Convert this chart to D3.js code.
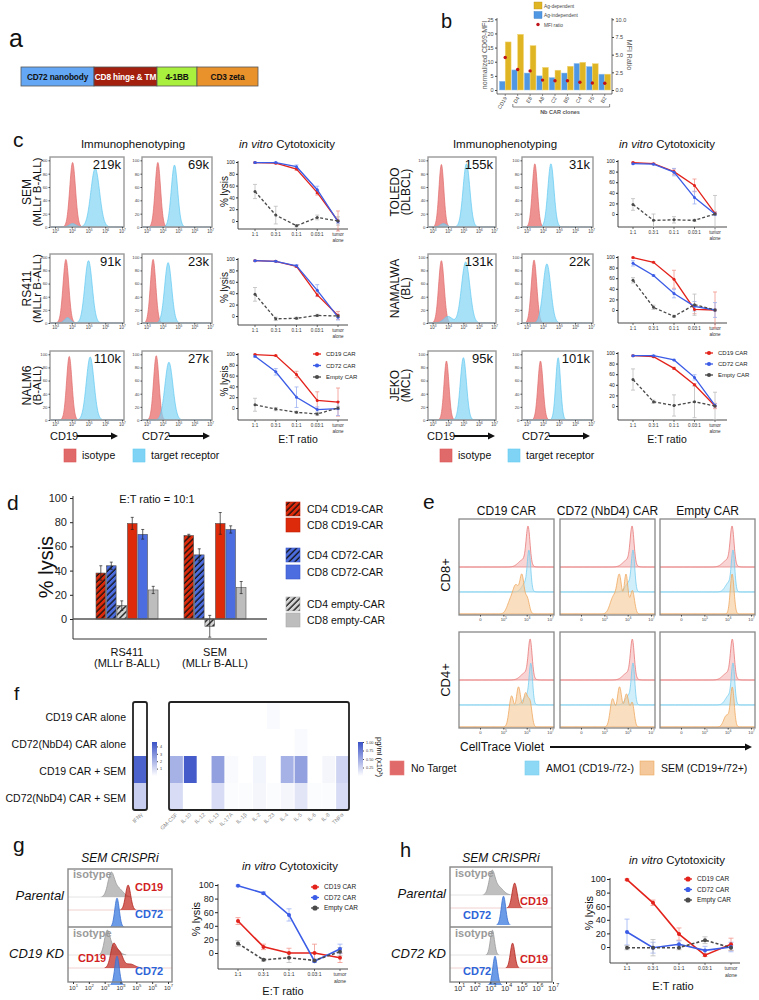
<!DOCTYPE html>
<html>
<head>
<meta charset="utf-8">
<script src="https://cdn.jsdelivr.net/npm/d3@7"></script>
<style>
  body { margin: 0; background: #fff; }
</style>
</head>
<body>
<script>
// ---------------- data ----------------
// a: CAR construct
const constructParts = ["CD72 nanobody", "CD8 hinge & TM", "4-1BB", "CD3 zeta"];
const constructSizes = [73, 63, 40, 61];

// b: nanobody clones
const nbClones = ["CD19", "D4", "E8", "A8", "C2", "B5", "C4", "F5", "B2"];
const agDependent = [17, 19.7, 15.7, 8, 7, 8.4, 9.8, 9.3, 5.6];
const agIndependent = [3.1, 7.1, 6, 5, 4.4, 6, 9.4, 8.3, 5.6];
const mfiRatio = [4.6, 2.9, 2.7, 1.4, 1.3, 1.3, 1.1, 1.0, 0.95];

// c: cytotoxicity, [mean, sd] for CD19 CAR, CD72 CAR, Empty CAR
const etRatios = ["1:1", "0.3:1", "0.1:1", "0.03:1", "tumor alone"];
const carNames = ["CD19 CAR", "CD72 CAR", "Empty CAR"];
const semLysis = [
  [[99, 1], [98, 1], [88, 2], [48, 4], [0, 17]],
  [[99, 1], [99, 1], [92, 3], [53, 6], [-1, 3]],
  [[50, 12], [10, 15], [-8, 2], [6, 4], [0, 7]]
];
const rs411Lysis = [
  [[97, 1], [96, 1], [87, 2], [37, 3], [1, 7]],
  [[97, 1], [96, 1], [88, 2], [45, 10], [-2, 5]],
  [[38, 12], [-5, 3], [-4, 2], [1, 2], [0, 2]]
];
const nalm6Lysis = [
  [[99, 1], [97, 1], [62, 6], [14, 16], [11, 26]],
  [[96, 2], [67, 6], [20, 19], [-3, 5], [-1, 13]],
  [[6, 12], [-2, 3], [-8, 2], [-11, 3], [0, 3]]
];
const toledoLysis = [
  [[97, 1], [95, 1], [80, 5], [54, 12], [1, 3]],
  [[95, 1], [94, 1], [79, 7], [31, 12], [0, 3]],
  [[18, 11], [-12, 12], [-11, 6], [-12, 2], [0, 35]]
];
const namalwaLysis = [
  [[99, 1], [90, 1], [58, 17], [1, 8], [0, 34]],
  [[88, 5], [65, 1], [31, 8], [7, 9], [0, 14]],
  [[56, 5], [5, 4], [-12, 2], [10, 20], [0, 2]]
];
const jekoLysis = [
  [[95, 1], [93, 1], [71, 2], [40, 2], [0, 5]],
  [[95, 1], [95, 1], [87, 1], [54, 5], [1, 3]],
  [[50, 20], [8, 3], [1, 20], [8, 30], [0, 26]]
];

// c: flow histograms, peaks as [log10 position, spread, % of max]; [isotype, target receptor]
const semCD19Hist = [[[4.05, 0.17, 97]], [[5.4, 0.26, 88], [4.05, 0.2, 5]]];
const semCD72Hist = [[[3.7, 0.17, 97]], [[4.75, 0.2, 93]]];
const rs411CD19Hist = [[[3.65, 0.17, 97]], [[5.0, 0.22, 95], [3.75, 0.18, 8]]];
const rs411CD72Hist = [[[3.4, 0.17, 97]], [[4.35, 0.22, 92]]];
const nalm6CD19Hist = [[[3.85, 0.16, 97]], [[5.1, 0.23, 96]]];
const nalm6CD72Hist = [[[3.6, 0.17, 98]], [[4.4, 0.25, 88]]];
const toledoCD19Hist = [[[3.57, 0.16, 94]], [[5.2, 0.22, 95], [3.7, 0.2, 5]]];
const toledoCD72Hist = [[[3.5, 0.16, 95]], [[4.5, 0.19, 95]]];
const namalwaCD19Hist = [[[3.57, 0.18, 95]], [[5.15, 0.27, 93], [4.0, 0.28, 10]]];
const namalwaCD72Hist = [[[3.45, 0.17, 96]], [[4.25, 0.24, 90]]];
const jekoCD19Hist = [[[3.9, 0.16, 90]], [[5.0, 0.2, 95]]];
const jekoCD72Hist = [[[3.85, 0.16, 90]], [[4.95, 0.15, 95]]];
const receptorCounts = ["219k", "69k", "91k", "23k", "110k", "27k", "155k", "31k", "131k", "22k", "95k", "101k"];

// d: lysis at E:T 10:1, [mean, sd]
const dGroups = ["RS411", "SEM"];
const dBars = ["CD4 CD19-CAR", "CD4 CD72-CAR", "CD4 empty-CAR", "CD8 CD19-CAR", "CD8 CD72-CAR", "CD8 empty-CAR"];
const rs411Lysis10 = [[38, 6], [44, 3], [11, 4], [79, 5], [70, 4], [24, 3]];
const semLysis10 = [[69, 1], [53, 5], [-6, 9], [79, 9], [74, 3], [26, 5]];

// e: CellTrace Violet dilution, [No Target, AMO1, SEM] peaks
const eCars = ["CD19 CAR", "CD72 (NbD4) CAR", "Empty CAR"];
const cd8TraceCD19 = [[[6.06, 0.08, 1], [5.85, 0.2, 0.2]], [[6.1, 0.07, 1], [5.95, 0.15, 0.25]], [[5.8, 0.09, 1], [5.55, 0.13, 0.75], [5.3, 0.14, 0.35], [6.02, 0.09, 0.45]]];
const cd8TraceCD72 = [[[6.19, 0.08, 1], [6.0, 0.2, 0.2]], [[6.23, 0.07, 1], [6.05, 0.15, 0.25]], [[5.93, 0.08, 1], [5.65, 0.1, 0.9], [5.4, 0.15, 0.45], [6.2, 0.09, 0.6]]];
const cd8TraceEmpty = [[[6.19, 0.08, 1], [6.0, 0.2, 0.2]], [[6.23, 0.07, 1], [6.05, 0.15, 0.25]], [[6.19, 0.08, 1]]];
const cd4TraceCD19 = [[[6.15, 0.08, 1], [5.95, 0.2, 0.2]], [[6.18, 0.07, 1], [6.0, 0.15, 0.25]], [[5.35, 0.1, 0.7], [5.65, 0.1, 0.9], [5.95, 0.1, 0.75], [6.15, 0.08, 0.5]]];
const cd4TraceCD72 = [[[6.2, 0.08, 1], [6.0, 0.2, 0.2]], [[6.23, 0.07, 1], [6.05, 0.15, 0.25]], [[5.35, 0.1, 0.6], [5.65, 0.1, 0.85], [5.95, 0.1, 0.7], [6.2, 0.08, 0.5]]];
const cd4TraceEmpty = [[[6.2, 0.08, 1], [6.0, 0.2, 0.2]], [[6.23, 0.07, 1], [6.05, 0.15, 0.25]], [[6.2, 0.08, 1], [5.95, 0.12, 0.3]]];
const eLegend = ["No Target", "AMO1 (CD19-/72-)", "SEM (CD19+/72+)"];

// f: cytokines (pg/ml x10^3)
const conditions = ["CD19 CAR alone", "CD72(NbD4) CAR alone", "CD19 CAR + SEM", "CD72(NbD4) CAR + SEM"];
const cytokines = ["GM-CSF", "IL-10", "IL-12", "IL-13", "IL-17A", "IL-1β", "IL-2", "IL-23", "IL-4", "IL-5", "IL-6", "IL-8", "TNFα"];
const ifnGamma = [0, 0.02, 4.2, 1.3];
const cytoCD19Alone = [0, 0, 0, 0, 0, 0, 0, 0.03, 0, 0, 0, 0, 0];
const cytoCD72Alone = [0, 0, 0, 0, 0, 0, 0, 0, 0, 0.03, 0, 0, 0];
const cytoCD19SEM = [0.45, 0.95, 0, 0.55, 0.03, 0, 0.06, 0, 0.45, 0.55, 0, 0.05, 0.25];
const cytoCD72SEM = [0.2, 0, 0, 0.2, 0.02, 0.02, 0.05, 0.02, 0.05, 0.15, 0.02, 0.02, 0.2];

// g / h: CRISPRi histograms [isotype, CD19, CD72] and lysis
const gParental = [[[3.4, 0.2, 0.9], [3.85, 0.3, 0.35]], [[4.48, 0.16, 1]], [[3.78, 0.14, 1]]];
const gCD19KD = [[[3.15, 0.17, 0.9], [3.55, 0.3, 0.35]], [[3.55, 0.18, 0.85], [3.95, 0.2, 0.55], [4.6, 0.3, 0.15]], [[3.78, 0.14, 1]]];
const hParental = [[[3.1, 0.18, 0.9], [3.5, 0.3, 0.35]], [[4.55, 0.16, 1]], [[3.84, 0.14, 1]]];
const hCD72KD = [[[3.13, 0.13, 1]], [[4.42, 0.14, 1]], [[3.3, 0.14, 1]]];
const gLysis = [
  [[47, 5], [9, 4], [0, 7], [0, 13], [-7, 7]],
  [[99, 1], [88, 2], [56, 9], [-12, 2], [6, 7]],
  [[14, 4], [-10, 2], [-7, 7], [-11, 2], [2, 6]]
];
const hLysis = [
  [[99, 1], [65, 4], [19, 9], [-12, 2], [4, 9]],
  [[22, 19], [-1, 8], [4, 5], [-5, 6], [0, 7]],
  [[-1, 3], [-1, 12], [-1, 3], [10, 5], [-1, 4]]
];

// ---------------- setup ----------------
const FONT = "'Liberation Sans', Arial, Helvetica, sans-serif";
const svg = d3.select("body").append("svg")
  .attr("width", 759).attr("height", 1000)
  .style("font-family", FONT);
svg.append("rect").attr("width", 759).attr("height", 1000).attr("fill", "#fff");
const defs = svg.append("defs");

function txt(x, y, s, size, o = {}) {
  const t = svg.append("text").attr("x", x).attr("y", y).text(s)
    .attr("font-size", size).attr("text-anchor", o.anchor || "start")
    .attr("fill", o.fill || "#111");
  if (o.weight) t.attr("font-weight", o.weight);
  if (o.italic) t.attr("font-style", "italic");
  if (o.rotate != null) t.attr("transform", `rotate(${o.rotate},${x},${y})`);
  return t;
}
function line(x1, y1, x2, y2, stroke, w, dash) {
  const l = svg.append("line").attr("x1", x1).attr("y1", y1).attr("x2", x2).attr("y2", y2)
    .attr("stroke", stroke).attr("stroke-width", w);
  if (dash) l.attr("stroke-dasharray", dash);
  return l;
}
function styleAxis(g, fs, color) {
  g.attr("font-family", FONT).attr("font-size", fs);
  g.selectAll("text").attr("fill", color);
  g.selectAll("line").attr("stroke", color);
  g.select(".domain").remove();
}
function powLabels(g, fs) {
  g.selectAll("text").each(function (d) {
    const t = d3.select(this);
    t.text(null);
    t.append("tspan").text("10");
    t.append("tspan").attr("dy", -fs * 0.45).attr("font-size", fs * 0.7).text(d);
  });
}
function density(comps, v) {
  return d3.sum(comps, c => c[2] * Math.exp(-((v - c[0]) ** 2) / (2 * c[1] * c[1])));
}
function histPoints(comps, lo, hi) {
  return d3.range(lo, hi, (hi - lo) / 200).concat([hi]).map(v => [v, density(comps, v)]);
}
// filled flow histogram; outline optionally only where the curve rises
function drawHist(comps, x, lo, hi, yBase, yFn, fill, stroke, sw, outlineOnly) {
  const pts = histPoints(comps, lo, hi);
  const mx = d3.max(pts, p => p[1]);
  svg.append("path")
    .attr("d", d3.area().x(p => x(p[0])).y0(yBase).y1(p => yFn(p[1], mx)).curve(d3.curveBasis)(pts))
    .attr("fill", fill).attr("stroke", outlineOnly ? "none" : stroke).attr("stroke-width", sw);
  if (outlineOnly) {
    svg.append("path")
      .attr("d", d3.line().defined(p => p[1] / mx > 0.01).x(p => x(p[0])).y(p => yFn(p[1], mx)).curve(d3.curveBasis)(pts))
      .attr("fill", "none").attr("stroke", stroke).attr("stroke-width", sw);
  }
}
function arrow(x1, x2, y) {
  line(x1, y, x2 - 5, y, "#111", 2);
  svg.append("path").attr("d", `M${x2 - 7},${y - 3.5}L${x2},${y}L${x2 - 7},${y + 3.5}Z`).attr("fill", "#111");
}

// panel letters
txt(9, 47, "a", 25);
txt(441, 28, "b", 20);
txt(13, 147, "c", 21);
txt(7, 510, "d", 21);
txt(423, 509, "e", 21);
txt(14, 700, "f", 19);
txt(13, 852, "g", 21);
txt(400, 857, "h", 20);

// ---------------- a ----------------
const constructColors = ["#64a8f5", "#a3200f", "#a9ef3d", "#e9922c"];
const aScale = d3.scaleLinear().domain([0, d3.sum(constructSizes)]).range([21, 258]);
const aStarts = d3.cumsum([0].concat(constructSizes));
constructParts.forEach((p, i) => {
  const x0 = aScale(aStarts[i]), x1 = aScale(aStarts[i + 1]);
  svg.append("rect").attr("x", x0).attr("y", 67).attr("width", x1 - x0).attr("height", 19)
    .attr("fill", constructColors[i]).attr("stroke", "#555").attr("stroke-width", 0.8);
  txt((x0 + x1) / 2, 79.5, p, 8.3, { anchor: "middle", weight: "bold", fill: i === 1 ? "#fff" : "#111" })
    .attr("letter-spacing", -0.15);
});

// ---------------- b ----------------
const bx = d3.scaleBand().domain(nbClones).range([499, 611]).paddingInner(0.06).paddingOuter(0.03);
const byL = d3.scaleLinear().domain([0, 25]).range([90, 19.3]);
const byR = d3.scaleLinear().domain([0, 10]).range([90, 19.3]);
const bHalf = bx.bandwidth() / 2;
nbClones.forEach((c, i) => {
  svg.append("rect").attr("x", bx(c)).attr("y", byL(agIndependent[i])).attr("width", bHalf)
    .attr("height", byL(0) - byL(agIndependent[i])).attr("fill", "#4f97e3").attr("stroke", "#9ac6f2").attr("stroke-width", 0.5);
  svg.append("rect").attr("x", bx(c) + bHalf).attr("y", byL(agDependent[i])).attr("width", bHalf)
    .attr("height", byL(0) - byL(agDependent[i])).attr("fill", "#e0b523").attr("stroke", "#f2d77a").attr("stroke-width", 0.5);
});
nbClones.forEach((c, i) => {
  svg.append("circle").attr("cx", bx(c) + bHalf).attr("cy", byR(mfiRatio[i])).attr("r", 1.7).attr("fill", "#c0121a");
});
const bAxL = svg.append("g").attr("transform", "translate(497,0)")
  .call(d3.axisLeft(byL).tickValues([0, 5, 10, 15, 20, 25]).tickSize(2).tickPadding(1.5));
styleAxis(bAxL, 5.5, "#444");
const bAxR = svg.append("g").attr("transform", "translate(612,0)")
  .call(d3.axisRight(byR).tickValues([0, 2.5, 5, 7.5, 10]).tickFormat(d3.format(".1f")).tickSize(2).tickPadding(1.5));
styleAxis(bAxR, 5.5, "#444");
line(497, 18, 497, 94, "#444", 0.8);
line(612, 18, 612, 94, "#444", 0.8);
line(497, 94, 612, 94, "#444", 0.8);
nbClones.forEach(c => {
  const cx = bx(c) + bHalf;
  line(cx, 94, cx, 96, "#444", 0.6);
  txt(cx + 2, 98, c, 5.2, { anchor: "end", fill: "#444", rotate: -60 });
});
svg.append("path").attr("d", `M${bx("D4") + 1},104V107H${bx("B2") + bx.bandwidth() - 1}V104`)
  .attr("fill", "none").attr("stroke", "#555").attr("stroke-width", 0.7);
txt(560, 114, "Nb CAR clones", 5.5, { anchor: "middle", fill: "#555", weight: "bold" });
txt(487, 55, "normalized CD69-MFI", 7, { anchor: "middle", fill: "#555", rotate: -90 });
txt(627, 55, "MFI Ratio", 7, { anchor: "middle", fill: "#555", rotate: 90 });
svg.append("rect").attr("x", 534).attr("y", 2).attr("width", 8).attr("height", 7).attr("fill", "#e0b523").attr("stroke", "#b89020").attr("stroke-width", 0.4);
svg.append("rect").attr("x", 534).attr("y", 11.5).attr("width", 8).attr("height", 7).attr("fill", "#4f97e3").attr("stroke", "#3a78c0").attr("stroke-width", 0.4);
svg.append("circle").attr("cx", 538).attr("cy", 24.5).attr("r", 1.7).attr("fill", "#c0121a");
txt(544, 7.5, "Ag-dependent", 4.8, { fill: "#444" });
txt(544, 17, "Ag-independent", 4.8, { fill: "#444" });
txt(544, 26.5, "MFI ratio", 4.8, { fill: "#444" });

// ---------------- c ----------------
const carStyles = [
  { line: "#e3221b", err: "#f1968c", dash: null },
  { line: "#3b5ce6", err: "#9db1f2", dash: null },
  { line: "#4a4a4a", err: "#bdbdbd", dash: "3,2" }
];

function flowHist(x0, x1, yTop, yBot, hist, count) {
  const x = d3.scaleLinear().domain([2.7, 7.12]).range([x0, x1]);
  const y = d3.scaleLinear().domain([0, 105]).range([yBot, yTop]);
  const fills = ["rgba(232,108,108,0.75)", "rgba(128,212,245,0.7)"];
  const strokes = ["#e06a6a", "#62c9f0"];
  hist.forEach((comps, i) => {
    drawHist(comps, x, 2.7, 7.12, yBot, v => y(v), fills[i], strokes[i], 0.7, false);
  });
  svg.append("rect").attr("x", x0).attr("y", yTop).attr("width", x1 - x0).attr("height", yBot - yTop)
    .attr("fill", "none").attr("stroke", "#999").attr("stroke-width", 1.4);
  const ya = svg.append("g").attr("transform", `translate(${x0},0)`)
    .call(d3.axisLeft(y).tickValues([0, 20, 40, 60, 80, 100]).tickSize(1.5).tickPadding(1));
  styleAxis(ya, 4.3, "#444");
  const xa = svg.append("g").attr("transform", `translate(0,${yBot})`)
    .call(d3.axisBottom(x).tickValues([3, 4, 5, 6, 7]).tickSize(1.5).tickPadding(1.5));
  styleAxis(xa, 4.5, "#444");
  powLabels(xa, 4.5);
  txt(x1 - 3, yTop + 12, count, 13, { anchor: "end" });
}

function cytoPlot(o, series, legend) {
  const fs = o.fs || 5;
  const x = d3.scalePoint().domain(etRatios).range([o.xs, o.xe]);
  const y = d3.scaleLinear().domain([0, 100]).range([o.y0, o.y100]);
  const ya = svg.append("g").attr("transform", `translate(${o.ax},0)`)
    .call(d3.axisLeft(y).tickValues([0, 20, 40, 60, 80, 100]).tickSize(o.tick || 2).tickPadding(1.2));
  styleAxis(ya, fs, "#222");
  line(o.ax, o.y100 - 1, o.ax, o.yBase, "#333", 0.9);
  line(o.ax, o.yBase, o.xEnd, o.yBase, "#333", 0.9);
  const lfs = o.lfs || 4.6;
  etRatios.forEach(r => {
    line(x(r), o.yBase, x(r), o.yBase + 2, "#333", 0.7);
    if (r === "tumor alone") {
      txt(x(r), o.yBase + 7, "tumor", lfs, { anchor: "middle", fill: "#333" });
      txt(x(r), o.yBase + 7 + lfs * 1.35, "alone", lfs, { anchor: "middle", fill: "#333" });
    } else {
      txt(x(r), o.yBase + 7, r, lfs, { anchor: "middle", fill: "#333" });
    }
  });
  const r = o.r || 1.5, cap = o.cap || 2;
  series.forEach((s, i) => {
    const st = carStyles[i];
    s.forEach((d, j) => {
      const cx = x(etRatios[j]);
      line(cx, y(d[0] - d[1]), cx, y(d[0] + d[1]), st.err, 0.8);
      line(cx - cap, y(d[0] + d[1]), cx + cap, y(d[0] + d[1]), st.err, 0.8);
      line(cx - cap, y(d[0] - d[1]), cx + cap, y(d[0] - d[1]), st.err, 0.8);
    });
  });
  series.forEach((s, i) => {
    const st = carStyles[i];
    const p = svg.append("path")
      .attr("d", d3.line().x((d, j) => x(etRatios[j])).y(d => y(d[0]))(s))
      .attr("fill", "none").attr("stroke", st.line).attr("stroke-width", o.lw || 1.3);
    if (st.dash) p.attr("stroke-dasharray", st.dash);
    s.forEach((d, j) => {
      svg.append("circle").attr("cx", x(etRatios[j])).attr("cy", y(d[0])).attr("r", r).attr("fill", st.line);
    });
  });
  if (legend) {
    carNames.forEach((n, i) => {
      const ly = legend.y + i * legend.dy;
      line(legend.x - 4, ly, legend.x + 4, ly, carStyles[i].line, 1.3);
      svg.append("circle").attr("cx", legend.x).attr("cy", ly).attr("r", r + 0.6).attr("fill", carStyles[i].line);
      txt(legend.x + 9, ly + legend.fs * 0.35, n, legend.fs, { fill: "#222" });
    });
  }
  if (o.ylab) {
    txt(o.ylab.x, (o.y100 + o.y0) / 2, "% lysis", o.ylab.fs, { anchor: "middle", rotate: -90 });
  }
}

function headers(xImm, xCyt) {
  txt(xImm, 148, "Immunophenotyping", 11.5, { anchor: "middle" });
  const t = txt(xCyt, 148, "", 11.5, { anchor: "middle" });
  t.append("tspan").attr("font-style", "italic").text("in vitro");
  t.append("tspan").text(" Cytotoxicity");
}
headers(133, 287);
headers(505, 667);

const leftRows = [
  { name: ["SEM", "(MLLr B-ALL)"], hist: [semCD19Hist, semCD72Hist], lysis: semLysis },
  { name: ["RS411", "(MLLr B-ALL)"], hist: [rs411CD19Hist, rs411CD72Hist], lysis: rs411Lysis },
  { name: ["NALM6", "(B-ALL)"], hist: [nalm6CD19Hist, nalm6CD72Hist], lysis: nalm6Lysis }
];
const rightRows = [
  { name: ["TOLEDO", "(DLBCL)"], hist: [toledoCD19Hist, toledoCD72Hist], lysis: toledoLysis },
  { name: ["NAMALWA", "(BL)"], hist: [namalwaCD19Hist, namalwaCD72Hist], lysis: namalwaLysis },
  { name: ["JEKO", "(MCL)"], hist: [jekoCD19Hist, jekoCD72Hist], lysis: jekoLysis }
];
const rowBoxes = [[157, 227], [254, 323], [351, 420]];
const leftCyto = [
  { y100: 162, y0: 221, yBase: 229 },
  { y100: 259, y0: 316, yBase: 325 },
  { y100: 354, y0: 408, yBase: 420 }
];
const rightCyto = [
  { y100: 161, y0: 214, yBase: 227 },
  { y100: 257, y0: 310, yBase: 323 },
  { y100: 353, y0: 406, yBase: 420 }
];
leftRows.forEach((r, i) => {
  const [yt, yb] = rowBoxes[i];
  const cy = (yt + yb) / 2;
  txt(31, cy, r.name[0], 12, { anchor: "middle", rotate: -90 });
  txt(40.5, cy, r.name[1], 11.5, { anchor: "middle", rotate: -90 });
  flowHist(50, 124, yt, yb, r.hist[0], receptorCounts[i * 2]);
  flowHist(142, 212, yt, yb, r.hist[1], receptorCounts[i * 2 + 1]);
  cytoPlot(Object.assign({ ax: 238, xs: 255, xe: 338, xEnd: 348, ylab: { x: 228, fs: 10 } }, leftCyto[i]), r.lysis,
    i === 2 ? { x: 317, y: 354, dy: 11.5, fs: 6 } : null);
});
rightRows.forEach((r, i) => {
  const [yt, yb] = rowBoxes[i];
  const cy = (yt + yb) / 2;
  txt(399, cy, r.name[0], 12, { anchor: "middle", rotate: -90 });
  txt(410, cy, r.name[1], 12, { anchor: "middle", rotate: -90 });
  flowHist(428, 496, yt, yb, r.hist[0], receptorCounts[6 + i * 2]);
  flowHist(522, 593, yt, yb, r.hist[1], receptorCounts[6 + i * 2 + 1]);
  cytoPlot(Object.assign({ ax: 618, xs: 633, xe: 715, xEnd: 727 }, rightCyto[i]), r.lysis,
    i === 2 ? { x: 709, y: 353, dy: 11, fs: 6 } : null);
});
// c axis titles & legend
[[50, 142], [427, 522]].forEach(([a, b]) => {
  txt(a, 440, "CD19", 11);
  arrow(a + 27, a + 68, 436);
  txt(b, 440, "CD72", 11);
  arrow(b + 27, b + 68, 436);
});
[[64, 133], [440, 508]].forEach(([a, b]) => {
  svg.append("rect").attr("x", a).attr("y", 449).attr("width", 12).attr("height", 13).attr("fill", "#e06a6a").attr("stroke", "#d55").attr("stroke-width", 0.6);
  txt(a + 18, 459, "isotype", 10.5);
  svg.append("rect").attr("x", b).attr("y", 449).attr("width", 12).attr("height", 13).attr("fill", "#7fd4f5").attr("stroke", "#62c9f0").attr("stroke-width", 0.6);
  txt(b + 18, 459, "target receptor", 10.5);
});
txt(298, 443, "E:T ratio", 10.5, { anchor: "middle" });
txt(667, 443, "E:T ratio", 10.5, { anchor: "middle" });

// ---------------- d ----------------
const dRed = "#dd2a0b", dBlue = "#4c6de0", dGrey = "#bdbdbd";
function hatch(id, color) {
  const p = defs.append("pattern").attr("id", id).attr("patternUnits", "userSpaceOnUse")
    .attr("width", 4.2).attr("height", 4.2).attr("patternTransform", "rotate(45)");
  p.append("rect").attr("width", 4.2).attr("height", 4.2).attr("fill", color);
  p.append("line").attr("x1", 1).attr("y1", 0).attr("x2", 1).attr("y2", 4.2).attr("stroke", "#111").attr("stroke-width", 1.3);
}
hatch("hRed", dRed);
hatch("hBlue", dBlue);
hatch("hGrey", "#d4d4d4");
const dFills = ["url(#hRed)", "url(#hBlue)", "url(#hGrey)", dRed, dBlue, dGrey];
const dGx = d3.scaleBand().domain(dGroups).range([96, 246]).paddingInner(0.295);
const dBx = d3.scaleBand().domain(dBars).range([0, dGx.bandwidth()]).paddingInner(0.08);
const dY = d3.scaleLinear().domain([0, 100]).range([619, 498]);
const dAx = svg.append("g").attr("transform", "translate(73,0)")
  .call(d3.axisLeft(dY).tickValues([0, 20, 40, 60, 80, 100]).tickSize(3).tickPadding(3));
styleAxis(dAx, 11, "#222");
line(73, 496, 73, 639, "#333", 1);
line(73, 639, 267, 639, "#333", 1);
[rs411Lysis10, semLysis10].forEach((vals, gi) => {
  const gx = dGx(dGroups[gi]);
  vals.forEach((d, i) => {
    const x0 = gx + dBx(dBars[i]);
    const top = Math.min(dY(d[0]), dY(0));
    svg.append("rect").attr("x", x0).attr("y", top).attr("width", dBx.bandwidth())
      .attr("height", Math.abs(dY(d[0]) - dY(0))).attr("fill", dFills[i]).attr("stroke", "#555").attr("stroke-width", 0.6);
  });
  vals.forEach((d, i) => {
    const cx = gx + dBx(dBars[i]) + dBx.bandwidth() / 2;
    line(cx, dY(d[0] - d[1]), cx, dY(d[0] + d[1]), "#222", 0.7);
    line(cx - 1.5, dY(d[0] + d[1]), cx + 1.5, dY(d[0] + d[1]), "#222", 0.7);
    line(cx - 1.5, dY(d[0] - d[1]), cx + 1.5, dY(d[0] - d[1]), "#222", 0.7);
  });
});
line(73, dY(0), 267, dY(0), "#555", 1.5);
txt(157, 503, "E:T ratio = 10:1", 11, { anchor: "middle" });
txt(53, 567, "% lysis", 20, { anchor: "middle", rotate: -90 });
dGroups.forEach((g, i) => {
  const cx = dGx(g) + dGx.bandwidth() / 2;
  txt(cx, 656, g, 11, { anchor: "middle" });
  txt(cx, 667, "(MLLr B-ALL)", 11, { anchor: "middle" });
});
const dLegendOrder = [0, 3, 1, 4, 2, 5];
const dLegendY = [502, 518, 548, 565, 597, 613];
dLegendOrder.forEach((bi, k) => {
  svg.append("rect").attr("x", 286).attr("y", dLegendY[k]).attr("width", 14).attr("height", 14)
    .attr("fill", dFills[bi]).attr("stroke", bi % 3 === 1 ? "#3a58c8" : (bi % 3 === 0 ? "#c02008" : "#aaa")).attr("stroke-width", 0.6);
  txt(307, dLegendY[k] + 11, dBars[bi], 10.5);
});

// ---------------- e ----------------
const eCols = [459, 560, 660];
const eRows = [519, 632];
const eBoxW = 95, eBoxH = 96;
const eData = [[cd8TraceCD19, cd8TraceCD72, cd8TraceEmpty], [cd4TraceCD19, cd4TraceCD72, cd4TraceEmpty]];
const eFill = ["rgba(240,160,160,0.45)", "rgba(150,220,247,0.45)", "rgba(246,200,150,0.6)"];
const eStroke = ["#e87878", "#79cdef", "#efa860"];
eCars.forEach((c, i) => txt(eCols[i] + eBoxW / 2, 515, c, 12, { anchor: "middle" }));
eRows.forEach((yt, ri) => {
  eCols.forEach((x0, ci) => {
    const x = d3.scaleLinear().domain([3.1, 7.17]).range([x0, x0 + eBoxW]);
    const bases = [yt + eBoxH * 0.5, yt + eBoxH * 0.76, yt + eBoxH - 1];
    const peaks = [eBoxH * 0.43, eBoxH * 0.44, eBoxH * 0.42];
    eData[ri][ci].forEach((comps, k) => {
      drawHist(comps, x, 3.1, 7.17, bases[k], (v, mx) => bases[k] - peaks[k] * v / mx, eFill[k], eStroke[k], 0.8, false);
    });
    svg.append("rect").attr("x", x0).attr("y", yt).attr("width", eBoxW).attr("height", eBoxH)
      .attr("fill", "none").attr("stroke", "#888").attr("stroke-width", 1.3);
    const xa = svg.append("g").attr("transform", `translate(0,${yt + eBoxH})`)
      .call(d3.axisBottom(x).tickValues([4, 5, 6, 7]).tickSize(1.5).tickPadding(2));
    styleAxis(xa, 4.2, "#444");
    xa.selectAll("text").each(function (d) {
      const t = d3.select(this);
      if (d === 4) { t.text("0"); return; }
      t.text(null);
      t.append("tspan").text("10");
      t.append("tspan").attr("dy", -2).attr("font-size", 3).text(d);
    });
  });
});
txt(450, 575, "CD8+", 13, { anchor: "middle", rotate: -90 });
txt(450, 680, "CD4+", 13, { anchor: "middle", rotate: -90 });
txt(460, 751, "CellTrace Violet", 12);
arrow(550, 752, 747);
const eLegendX = [390, 525, 640];
const eLegendFill = ["#e06a6a", "#8dd8f5", "#f4c89a"];
eLegend.forEach((n, i) => {
  svg.append("rect").attr("x", eLegendX[i]).attr("y", 761).attr("width", 14).attr("height", 14)
    .attr("fill", eLegendFill[i]).attr("stroke", eStroke[i]).attr("stroke-width", 0.6);
  txt(eLegendX[i] + 21, 772, n, 10.5);
});

// ---------------- f ----------------
const fRows = d3.scaleBand().domain(conditions).range([702, 810]);
const fCols = d3.scaleBand().domain(cytokines).range([169, 349]);
const ifnColor = d3.scaleLinear().domain([0, 4.6]).range(["#ffffff", "#3a52c6"]);
const cytColor = d3.scaleLinear().domain([0, 1]).range(["#ffffff", "#3a52c6"]);
const cytoRows = [cytoCD19Alone, cytoCD72Alone, cytoCD19SEM, cytoCD72SEM];
conditions.forEach((c, i) => {
  txt(126, fRows(c) + fRows.bandwidth() / 2 + 5, c, 10.5, { anchor: "end" });
  svg.append("rect").attr("x", 133).attr("y", fRows(c)).attr("width", 14).attr("height", fRows.bandwidth())
    .attr("fill", ifnColor(ifnGamma[i]));
  cytokines.forEach((k, j) => {
    svg.append("rect").attr("x", fCols(k) + 1).attr("y", fRows(c)).attr("width", fCols.bandwidth() - 1)
      .attr("height", fRows.bandwidth()).attr("fill", cytColor(cytoRows[i][j]));
  });
});
svg.append("rect").attr("x", 133).attr("y", 702).attr("width", 14).attr("height", 108).attr("rx", 2)
  .attr("fill", "none").attr("stroke", "#222").attr("stroke-width", 1.8);
svg.append("rect").attr("x", 169).attr("y", 702).attr("width", 180).attr("height", 108).attr("rx", 2)
  .attr("fill", "none").attr("stroke", "#222").attr("stroke-width", 1.8);
function colorBar(id, x, color, dom, ticks, fmt) {
  const gr = defs.append("linearGradient").attr("id", id).attr("x1", 0).attr("y1", 1).attr("x2", 0).attr("y2", 0);
  gr.append("stop").attr("offset", 0).attr("stop-color", color(dom[0]));
  gr.append("stop").attr("offset", 1).attr("stop-color", color(dom[1]));
  svg.append("rect").attr("x", x).attr("y", 742).attr("width", 5).attr("height", 34).attr("fill", `url(#${id})`);
  const s = d3.scaleLinear().domain(dom).range([776, 742]);
  const a = svg.append("g").attr("transform", `translate(${x + 5},0)`)
    .call(d3.axisRight(s).tickValues(ticks).tickFormat(fmt).tickSize(1).tickPadding(2));
  styleAxis(a, 3.8, "#444");
}
colorBar("cbIfn", 152, ifnColor, [0, 4.6], [1, 2, 3, 4], d3.format("d"));
colorBar("cbCyt", 358, cytColor, [0, 1.0], [0.25, 0.5, 0.75, 1.0], d3.format(".2f"));
txt(377, 757, "pg/ml (x10³)", 7.5, { anchor: "middle", rotate: 90 });
txt(143, 815, "IFNγ", 5.5, { anchor: "end", fill: "#888", rotate: -45 });
cytokines.forEach(k => {
  txt(fCols(k) + fCols.bandwidth() / 2 + 2, 815, k, 5.5, { anchor: "end", fill: "#888", rotate: -45 });
});

// ---------------- g / h ----------------
function crisprHist(o, rows, rowNames) {
  const x = d3.scaleLinear().domain([1, 7]).range([o.d1, o.d7]);
  const lo = x.invert(o.x0), hi = x.invert(o.x1);
  const bases = [28, 41, 58];
  const peaks = [25, 25, 29];
  const fills = ["rgba(170,170,170,0.75)", "rgba(196,48,40,0.75)", "rgba(70,130,225,0.8)"];
  const strokes = ["#999", "#b3261e", "#3a6fd0"];
  const tops = [o.yTop, o.yMid];
  rows.forEach((r, ri) => {
    const t = tops[ri];
    line(o.x0, t + bases[0], o.x1, t + bases[0], "#e4e4e4", 1);
    line(o.x0, t + bases[1], o.x1, t + bases[1], "#f2d0d0", 1);
    r.forEach((comps, k) => {
      const yb = t + bases[k];
      drawHist(comps, x, lo, hi, yb, (v, mx) => yb - peaks[k] * v / mx, fills[k], strokes[k], 0.8, true);
    });
    txt(o.x0 - 4, t + 31, rowNames[ri], 13, { anchor: "end", italic: true });
  });
  svg.append("rect").attr("x", o.x0).attr("y", o.yTop).attr("width", o.x1 - o.x0).attr("height", o.yBot - o.yTop)
    .attr("fill", "none").attr("stroke", "#888").attr("stroke-width", 1.4);
  line(o.x0, o.yMid, o.x1, o.yMid, "#888", 1.4);
  const xa = svg.append("g").attr("transform", `translate(0,${o.yBot})`)
    .call(d3.axisBottom(x).tickValues([1, 2, 3, 4, 5, 6, 7]).tickSize(2).tickPadding(1.5));
  styleAxis(xa, o.fs, "#333");
  powLabels(xa, o.fs);
  txt((o.x0 + o.x1) / 2, 862, "SEM CRISPRi", 12, { anchor: "middle", italic: true });
}
crisprHist({ x0: 68, x1: 172, d1: 73, d7: 168, yTop: 869, yMid: 927, yBot: 982, fs: 6 }, [gParental, gCD19KD], ["Parental", "CD19 KD"]);
crisprHist({ x0: 450, x1: 552, d1: 459, d7: 553, yTop: 867, yMid: 927, yBot: 982, fs: 7.5 }, [hParental, hCD72KD], ["Parental", "CD72 KD"]);
// labels inside g
txt(73, 878, "isotype", 11, { weight: "bold", fill: "#9a9a9a" });
txt(135, 891, "CD19", 11, { weight: "bold", fill: "#d21f1f" });
txt(135, 918, "CD72", 11, { weight: "bold", fill: "#2b64d8" });
txt(73, 937, "isotype", 11, { weight: "bold", fill: "#9a9a9a" });
txt(78, 962, "CD19", 11, { weight: "bold", fill: "#d21f1f" });
txt(135, 975, "CD72", 11, { weight: "bold", fill: "#2b64d8" });
// labels inside h
txt(455, 877, "isotype", 11, { weight: "bold", fill: "#9a9a9a" });
txt(520, 905, "CD19", 11, { weight: "bold", fill: "#d21f1f" });
txt(463, 919, "CD72", 11, { weight: "bold", fill: "#2b64d8" });
txt(455, 937, "isotype", 11, { weight: "bold", fill: "#9a9a9a" });
txt(520, 963, "CD19", 11, { weight: "bold", fill: "#d21f1f" });
txt(463, 975, "CD72", 11, { weight: "bold", fill: "#2b64d8" });

function cytoTitle(x, y) {
  const t = txt(x, y, "", 11.5, { anchor: "middle" });
  t.append("tspan").attr("font-style", "italic").text("in vitro");
  t.append("tspan").text(" Cytotoxicity");
}
cytoTitle(290, 870);
cytoTitle(677, 864);
cytoPlot({ ax: 218, xs: 238, xe: 340, xEnd: 348, y100: 885, y0: 953, yBase: 969, fs: 9, lfs: 5, r: 2, cap: 2.5, lw: 1.6, tick: 3, ylab: { x: 200, fs: 11 } },
  gLysis, { x: 315, y: 887, dy: 10.5, fs: 6.5 });
cytoPlot({ ax: 610, xs: 627, xe: 731, xEnd: 740, y100: 879, y0: 947, yBase: 963, fs: 9, lfs: 5, r: 2, cap: 2.5, lw: 1.6, tick: 3, ylab: { x: 593, fs: 11 } },
  hLysis, { x: 688, y: 879, dy: 10.5, fs: 6.5 });
txt(283, 995, "E:T ratio", 11, { anchor: "middle" });
txt(673, 990, "E:T ratio", 11, { anchor: "middle" });
</script>
</body>
</html>
